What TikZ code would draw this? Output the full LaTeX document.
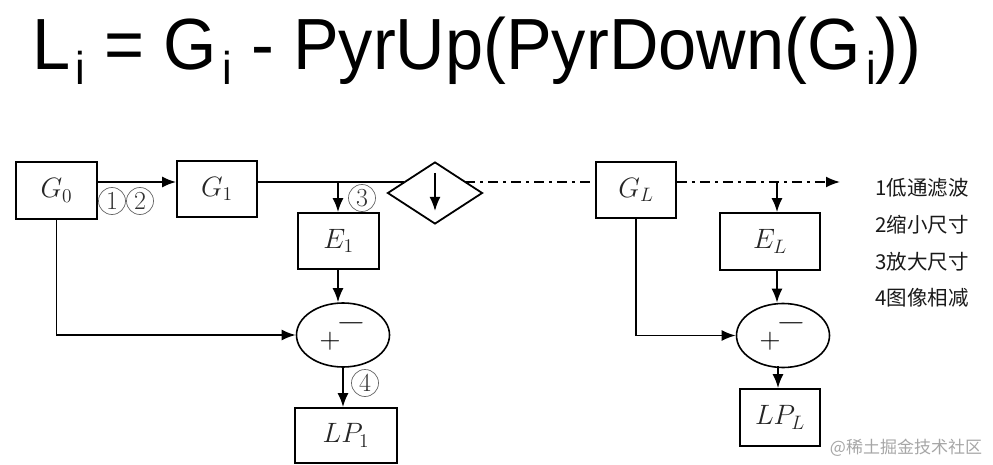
\documentclass[tikz,border=0pt]{standalone}
\usepackage{fontspec}
\usepackage{graphicx}
\usetikzlibrary{arrows.meta,shapes.geometric,calc}
\newfontfamily\titlefont{Liberation Sans}
\newfontfamily\cjk{Noto Sans CJK SC}
\newcommand\tsub{\hspace{6pt}\raisebox{-15pt}{\fontsize{46}{46}\selectfont i}}
\newcommand\mlab[1]{\scalebox{1.35}{$#1$}}
\tikzset{
  box/.style={draw,line width=1.8pt,rectangle,inner sep=0pt,font=\fontsize{20}{24}\selectfont,text=black!85},
  sumnode/.style={draw,line width=1.6pt,ellipse,inner sep=0pt,minimum width=93pt,minimum height=64pt},
  conn/.style={line width=1.8pt},
  arr/.style={conn,-{Latex[length=14pt,width=11pt]}},
  dashdot/.style={line width=1.8pt,dash pattern=on 10pt off 5pt on 3pt off 5pt},
  circnum/.style={circle,draw=black!60,line width=0.7pt,inner sep=0pt,minimum size=27pt,font=\fontsize{26}{26}\selectfont,text=black!80},
  legend/.style={anchor=west,inner sep=0pt,font=\cjk\fontsize{20.5}{22}\selectfont,text=black!90},
  sign/.style={inner sep=0pt,text=black!85,font=\fontsize{20}{20}\selectfont},
  plussign/.style={inner sep=0pt,text=black,font=\fontsize{20}{20}\selectfont},
}
\begin{document}
\begin{tikzpicture}[x=1pt,y=-1pt]
\useasboundingbox (0,0) rectangle (993,465);
% title
\node[anchor=base west,inner sep=0pt] (title) at (32,70)
  {\titlefont\fontsize{72.5}{74}\selectfont\scalebox{0.945}[1]{L\tsub{} = G\tsub{} - PyrUp(PyrDown(G\tsub))}};
% boxes
\node[box,minimum width=81pt,minimum height=57pt] (G0) at (56.5,190.5) {\mlab{G_{0}}};
\node[box,minimum width=80pt,minimum height=56pt] (G1) at (217,189) {\mlab{G_{1}}};
\node[box,minimum width=81pt,minimum height=56pt] (E1) at (338.5,241) {\mlab{E_{1}}};
\node[box,minimum width=102pt,minimum height=55pt] (LP1) at (346,435.5) {\mlab{LP_{1}}};
\node[box,minimum width=80pt,minimum height=56pt] (GL) at (636,190) {\mlab{G_{L}}};
\node[box,minimum width=100pt,minimum height=57pt] (EL) at (770,241.5) {\mlab{E_{L}}};
\node[box,minimum width=80pt,minimum height=57pt] (LPL) at (780,417.5) {\mlab{LP_{L}}};
\node[draw,line width=1.8pt,diamond,inner sep=0pt,minimum width=95pt,minimum height=62pt] (dn) at (435,193) {};
\node[sumnode] (S1) at (343,335) {};
\node[sumnode] (S2) at (783,335.5) {};
% signs
\node[plussign] (p1) at ($(S1)+(-13,6)$) {\scalebox{1.45}{+}};
\node[sign] (m1) at ($(S1)+(8,-12)$) {\scalebox{1.85}[1.6]{$-$}};
\node[plussign] (p2) at ($(S2)+(-13,6)$) {\scalebox{1.45}{+}};
\node[sign] (m2) at ($(S2)+(8,-12)$) {\scalebox{1.85}[1.6]{$-$}};
% coordinates of the main line
\coordinate (ly) at (0,182);
\coordinate (dnL) at (404,182);
\coordinate (dnR) at (465,182);
\coordinate (b1) at (338,182);
\coordinate (b2) at (777,182);
\coordinate (tip) at (840,182);
\coordinate (s2b) at (778,366);
% connectors
\draw[arr] (G0.east |- ly) -- (G1.west |- ly);
\draw[conn] (G1.east |- ly) -- (dnL);
\draw[arr] (b1) -- (b1 |- E1.north);
\draw[dashdot] (dnR) -- (GL.west |- ly);
\draw[dashdot,-{Latex[length=14pt,width=11pt]}] (GL.east |- ly) -- (tip);
\draw[arr] (b2) -- (b2 |- EL.north);
\draw[arr] (b1 |- E1.south) -- (b1 |- S1.north);
\draw[arr] (b2 |- EL.south) -- (b2 |- S2.north);
\draw[arr] (G0.south) |- (S1.west);
\draw[arr] (GL.south) |- (S2.west);
\draw[arr] (S1.south) -- (S1.south |- LP1.north);
\draw[arr] (s2b) -- (s2b |- LPL.north);
% arrow inside diamond
\coordinate (da) at (435,173);
\coordinate (db) at (435,211);
\draw[arr] (da) -- (db);
% circled numbers
\node[circnum] (c1) at (112,201) {1};
\node[circnum] (c2) at (140,201) {2};
\node[circnum] (c3) at (362,198) {3};
\node[circnum] (c4) at (365,383) {4};
% legend
\node[legend] (l1) at (875,188) {1低通滤波};
\node[legend] (l2) at (875,225) {2缩小尺寸};
\node[legend] (l3) at (875,262) {3放大尺寸};
\node[legend] (l4) at (875,298) {4图像相减};
% watermark
\node[inner sep=0pt,font=\cjk\fontsize{17}{17}\selectfont,text=black!35] (wm) at (906,448) {@稀土掘金技术社区};
\end{tikzpicture}
\end{document}
